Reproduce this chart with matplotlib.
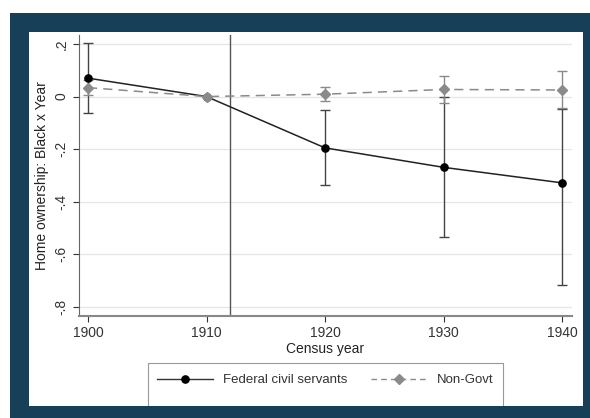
import numpy as np
import matplotlib.pyplot as plt
from matplotlib.patches import Rectangle
from matplotlib.lines import Line2D

plt.rcParams['font.family'] = ['Liberation Sans', 'DejaVu Sans']

years = [1900, 1910, 1920, 1930, 1940]
fed = [0.070, 0.0, -0.195, -0.269, -0.328]
fed_lo = [-0.062, 0.0, -0.337, -0.535, -0.715]
fed_hi = [0.204, 0.0, -0.050, -0.001, -0.047]
nongov = [0.034, 0.0, 0.009, 0.027, 0.025]
nongov_lo = [0.005, 0.0, -0.018, -0.024, -0.045]
nongov_hi = [0.063, 0.0, 0.037, 0.077, 0.099]
yticks = [0.2, 0, -0.2, -0.4, -0.6, -0.8]
ytick_labels = ['.2', '0', '-.2', '-.4', '-.6', '-.8']
event_year = 1912

W, H = 590, 418
navy = '#173f58'
fig = plt.figure(figsize=(W / 100, H / 100), dpi=100)

# navy frame around the white panel
fig.patches.append(Rectangle((10 / W, 0), 1 - 10 / W, 1 - 13 / H, transform=fig.transFigure,
                             facecolor=navy, edgecolor='none', zorder=-2))
fig.patches.append(Rectangle((29 / W, 12 / H), (583 - 29) / W, (406 - 32) / H, transform=fig.transFigure,
                             facecolor='white', edgecolor='none', zorder=-1))

ax = fig.add_axes([79 / W, 1 - 316 / H, (572 - 79) / W, (316 - 35) / H])
ax.set_xlim(1899.24, 1940.84)
ax.set_ylim(-0.834, 0.234)

for y in yticks:
    ax.axhline(y, color='#e6e6e6', lw=0.9, zorder=0)
ax.axvline(event_year, color='#555555', lw=1.0, zorder=1)

fed = np.array(fed)
nongov = np.array(nongov)
idx = [0, 2, 3, 4]
ax.errorbar(np.array(years)[idx], fed[idx],
            yerr=[fed[idx] - np.array(fed_lo)[idx], np.array(fed_hi)[idx] - fed[idx]],
            fmt='none', ecolor='#444444', elinewidth=1.0, capsize=3.5, capthick=1.0, zorder=2)
ax.errorbar(np.array(years)[idx], nongov[idx],
            yerr=[nongov[idx] - np.array(nongov_lo)[idx], np.array(nongov_hi)[idx] - nongov[idx]],
            fmt='none', ecolor='#8a8a8a', elinewidth=1.0, capsize=3.5, capthick=1.0, zorder=3)
ax.plot(years, fed, color='#222222', lw=1.1, marker='o', ms=5.2,
        mfc='black', mec='black', zorder=4)
ax.plot(years, nongov, color='#8a8a8a', lw=1.1, ls=(0, (6, 4)), marker='D', ms=5.2,
        mfc='#8a8a8a', mec='#8a8a8a', zorder=5)

ax.set_xticks(years)
ax.set_yticks(yticks)
ax.set_yticklabels(ytick_labels, rotation=90, va='center')
ax.tick_params(axis='both', labelsize=10, colors='#333333', length=4, width=0.8, direction='out')
ax.tick_params(axis='x', pad=3)
ax.set_xlabel('Census year', fontsize=10, color='#222222', labelpad=2)
ax.set_ylabel('Home ownership: Black x Year', fontsize=10, color='#222222', labelpad=4)
for s in ['top', 'right']:
    ax.spines[s].set_visible(False)
ax.spines['left'].set_color('#666666')
ax.spines['bottom'].set_color('#888888')
ax.spines['bottom'].set_linewidth(1.5)
ax.set_facecolor('white')

handles = [
    Line2D([], [], color='#333333', lw=1.0, marker='o', ms=5.2, mfc='black', mec='black'),
    Line2D([], [], color='#8a8a8a', lw=1.0, ls=(0, (4, 3)), marker='D', ms=5, mfc='#8a8a8a', mec='#8a8a8a'),
]
leg = fig.legend(handles, ['Federal civil servants', 'Non-Govt'], loc='center',
                 bbox_to_anchor=(325.5 / W, 1 - 380 / H), ncol=2, fontsize=9.5,
                 frameon=False, handlelength=4.2, borderaxespad=0,
                 columnspacing=1.8, handletextpad=0.8, labelcolor='#333333')

# legend box, open at the bottom where the navy frame covers it
fig.patches.append(Rectangle((148 / W, 0), (503 - 148) / W, 1 - 363 / H, transform=fig.transFigure,
                             facecolor='none', edgecolor='#999999', lw=0.8, zorder=1))

# bottom navy strip drawn over the legend box
fig.add_artist(Rectangle((10 / W, 0), 1 - 10 / W, 12 / H, transform=fig.transFigure,
                         facecolor=navy, edgecolor='none', zorder=10))

fig.savefig('out.png', dpi=100)
